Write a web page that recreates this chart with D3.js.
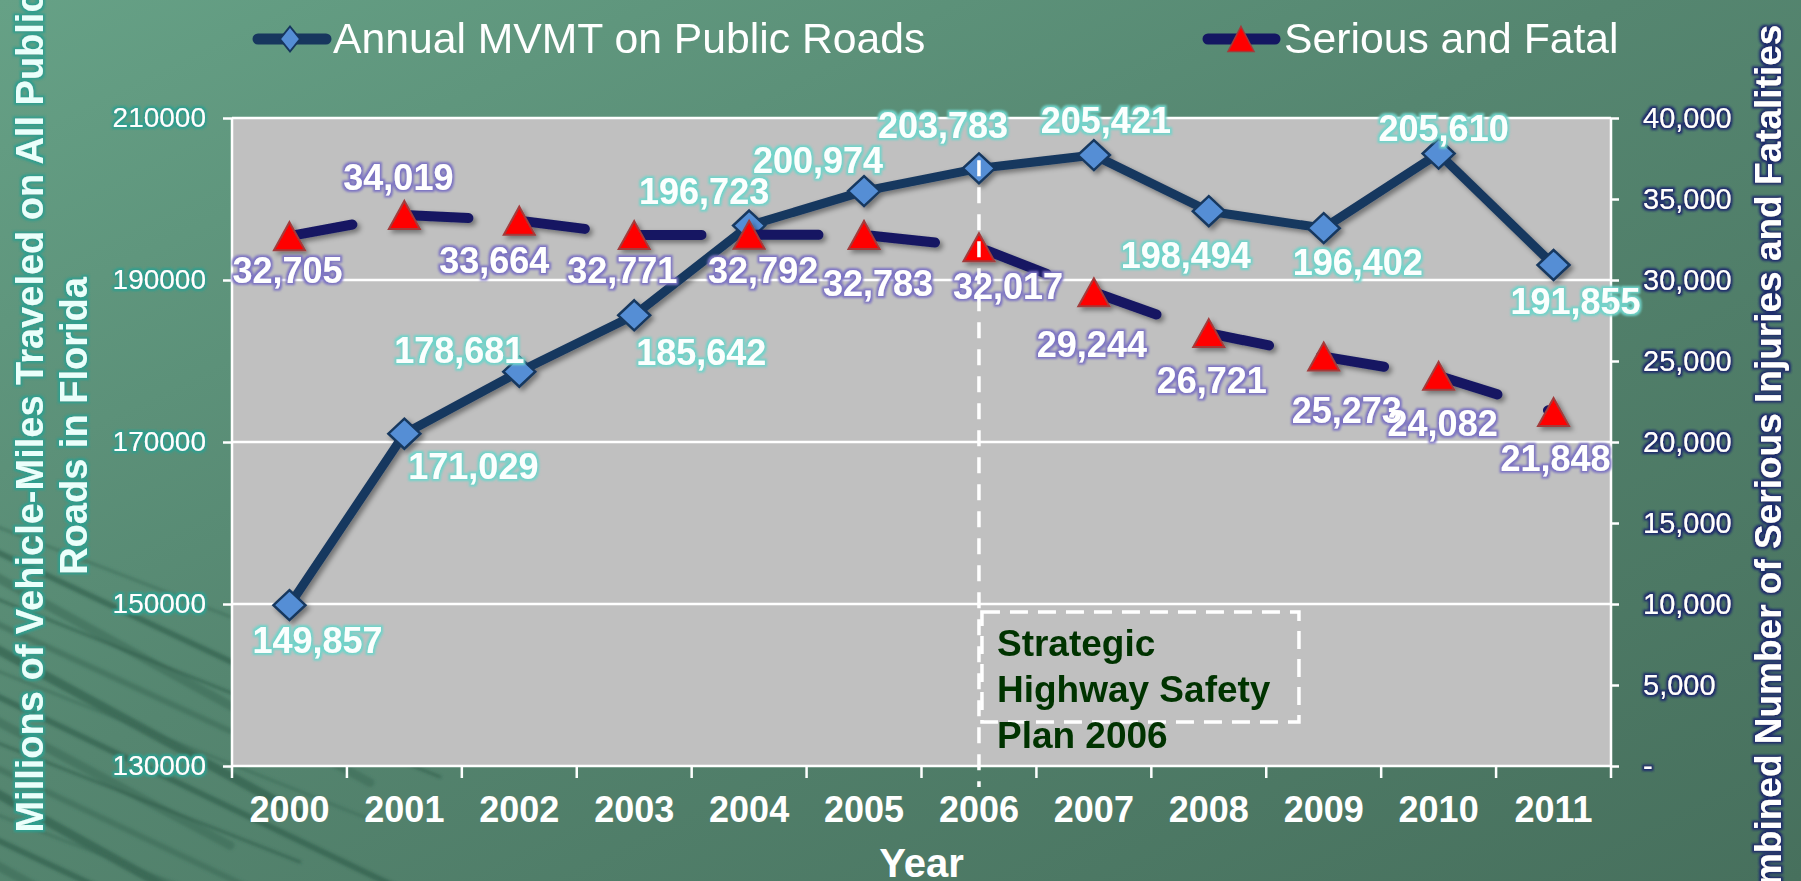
<!DOCTYPE html>
<html>
<head>
<meta charset="utf-8">
<script src="https://cdn.jsdelivr.net/npm/d3@7"></script>
<style>
body { margin: 0; overflow: hidden; background: #4f7c67; }
svg { display: block; font-family: Arial, "Liberation Sans", sans-serif; }
</style>
</head>
<body>
<svg width="1801" height="881"></svg>
<script>
var years = ["2000", "2001", "2002", "2003", "2004", "2005", "2006", "2007", "2008", "2009", "2010", "2011"];
var mvmt = [149857, 171029, 178681, 185642, 196723, 200974, 203783, 205421, 198494, 196402, 205610, 191855];
var serious = [32705, 34019, 33664, 32771, 32792, 32783, 32017, 29244, 26721, 25273, 24082, 21848];
var leftTicks = [130000, 150000, 170000, 190000, 210000];
var rightTicks = [0, 5000, 10000, 15000, 20000, 25000, 30000, 35000, 40000];
var planYear = "2006";
var planText = ["Strategic", "Highway Safety", "Plan 2006"];

// where each data label sits relative to its point
var mvmtLabelOffsets = [[28, 35], [69, 32], [-60, -22], [67, 37], [-45, -35], [-46, -31], [-36, -43], [12, -35], [-23, 44], [34, 34], [5, -26], [22, 36]];
var seriousLabelOffsets = [[-2, 34], [-6, -38], [-25, 39], [-12, 35], [14, 35], [14, 48], [29, 39], [-2, 52], [3, 47], [23, 53], [4, 47], [2, 46]];

var svg = d3.select("svg");
var width = 1801, height = 881;
var plotLeft = 232, plotRight = 1611, plotTop = 118, plotBottom = 766;

var defs = svg.append("defs");

var grad = defs.append("linearGradient").attr("id", "bg")
	.attr("x1", 0).attr("y1", 0).attr("x2", 1).attr("y2", 1);
grad.append("stop").attr("offset", "0%").attr("stop-color", "#66a186");
grad.append("stop").attr("offset", "45%").attr("stop-color", "#558670");
grad.append("stop").attr("offset", "100%").attr("stop-color", "#47705d");

var glow = function(id, color, r) {
	var f = defs.append("filter").attr("id", id)
		.attr("x", "-20%").attr("y", "-50%").attr("width", "140%").attr("height", "200%");
	f.append("feMorphology").attr("in", "SourceAlpha").attr("operator", "dilate").attr("radius", r).attr("result", "d");
	f.append("feGaussianBlur").attr("in", "d").attr("stdDeviation", 1.2).attr("result", "b");
	f.append("feFlood").attr("flood-color", color);
	f.append("feComposite").attr("in2", "b").attr("operator", "in").attr("result", "g");
	var m = f.append("feMerge");
	m.append("feMergeNode").attr("in", "g");
	m.append("feMergeNode").attr("in", "SourceGraphic");
}
glow("glowTeal", "#6fd3c9", 2.2);
glow("glowPurple", "#7b72c2", 2.2);
glow("glowAxisTeal", "#2f9e8e", 1.6);
glow("glowNavy", "#1e2b6c", 1.6);

var sh = defs.append("filter").attr("id", "shadow")
	.attr("x", "-20%").attr("y", "-20%").attr("width", "140%").attr("height", "140%");
sh.append("feDropShadow").attr("dx", 3).attr("dy", 3).attr("stdDeviation", 2.5)
	.attr("flood-color", "#000").attr("flood-opacity", 0.4);

var soft = defs.append("filter").attr("id", "soft");
soft.append("feGaussianBlur").attr("stdDeviation", 1.5);

// background
svg.append("rect").attr("width", width).attr("height", height).attr("fill", "url(#bg)");

var streaks = svg.append("g").attr("filter", "url(#soft)");
d3.range(16).forEach(function(i) {
	var y0 = 520 + i * 24;
	var len = 230 + (i % 4) * 70;
	streaks.append("line")
		.attr("x1", -20).attr("y1", y0)
		.attr("x2", len).attr("y2", y0 + len * (0.42 + (i % 3) * 0.08))
		.attr("stroke", i % 2 ? "#2c5646" : "#3a6a57")
		.attr("stroke-width", 3 + (i % 3) * 3)
		.attr("stroke-linecap", "round")
		.attr("opacity", 0.55);
});

// scales
var x = d3.scaleBand().domain(years).range([plotLeft, plotRight]);
var cx = function(d) { return x(d) + x.bandwidth() / 2; };
var yL = d3.scaleLinear().domain([130000, 210000]).range([plotBottom, plotTop]);
var yR = d3.scaleLinear().domain([0, 40000]).range([plotBottom, plotTop]);

// plot area
svg.append("rect").attr("x", plotLeft).attr("y", plotTop)
	.attr("width", plotRight - plotLeft).attr("height", plotBottom - plotTop).attr("fill", "#c0c0c0");

svg.append("g").selectAll("line").data(leftTicks.slice(1)).enter().append("line")
	.attr("x1", plotLeft).attr("x2", plotRight)
	.attr("y1", function(d) { return yL(d); }).attr("y2", function(d) { return yL(d); })
	.attr("stroke", "#fff").attr("stroke-width", 2.5);

// axes lines
var axisLines = svg.append("g").attr("stroke", "#fff").attr("stroke-width", 2.5);
axisLines.append("line").attr("x1", plotLeft).attr("x2", plotLeft).attr("y1", plotTop).attr("y2", plotBottom);
axisLines.append("line").attr("x1", plotRight).attr("x2", plotRight).attr("y1", plotTop).attr("y2", plotBottom);
axisLines.append("line").attr("x1", plotLeft).attr("x2", plotRight).attr("y1", plotBottom).attr("y2", plotBottom);
axisLines.selectAll(".xt").data(d3.range(years.length + 1)).enter().append("line")
	.attr("x1", function(i) { return plotLeft + i * x.step(); })
	.attr("x2", function(i) { return plotLeft + i * x.step(); })
	.attr("y1", plotBottom).attr("y2", plotBottom + 12);

// left axis
var la = svg.append("g").attr("transform", "translate(" + plotLeft + ",0)")
	.call(d3.axisLeft(yL).tickValues(leftTicks).tickSize(9).tickPadding(17).tickFormat(d3.format("d")));
la.select(".domain").remove();
la.selectAll("line").attr("stroke", "#fff").attr("stroke-width", 2.5);
la.selectAll("text").attr("font-size", 28).attr("fill", "#fff")
	.attr("font-family", "Arial, 'Liberation Sans', sans-serif")
	.attr("filter", "url(#glowAxisTeal)");

// right axis
var ra = svg.append("g").attr("transform", "translate(" + plotRight + ",0)")
	.call(d3.axisRight(yR).tickValues(rightTicks).tickSize(8).tickPadding(24)
		.tickFormat(function(d) { return d === 0 ? "-" : d3.format(",")(d); }));
ra.select(".domain").remove();
ra.selectAll("line").attr("stroke", "#fff").attr("stroke-width", 2.5);
ra.selectAll("text").attr("font-size", 29).attr("fill", "#fff")
	.attr("font-family", "Arial, 'Liberation Sans', sans-serif")
	.attr("filter", "url(#glowNavy)");

// year labels
svg.append("g").selectAll("text").data(years).enter().append("text")
	.attr("x", cx).attr("y", 822)
	.attr("text-anchor", "middle").attr("font-size", 36).attr("font-weight", "bold")
	.attr("fill", "#fff").text(function(d) { return d; });

svg.append("text").attr("x", (plotLeft + plotRight) / 2).attr("y", 877)
	.attr("text-anchor", "middle").attr("font-size", 40).attr("font-weight", "bold")
	.attr("fill", "#fff").text("Year");

// axis titles
var lt = svg.append("g").attr("filter", "url(#glowAxisTeal)").attr("font-size", 38)
	.attr("font-weight", "bold").attr("fill", "#eafffb").attr("text-anchor", "middle");
lt.append("text").attr("transform", "translate(43,412) rotate(-90)")
	.text("Millions of Vehicle-Miles Traveled on All Public");
lt.append("text").attr("transform", "translate(87,426) rotate(-90)")
	.text("Roads in Florida");

svg.append("text").attr("transform", "translate(1781,480) rotate(-90)")
	.attr("text-anchor", "middle").attr("font-size", 37).attr("font-weight", "bold")
	.attr("fill", "#fff").attr("filter", "url(#glowNavy)")
	.text("Combined Number of Serious Injuries and Fatalities");

// series shapes
var diamond = function(w, h) {
	return "M0," + (-h / 2) + "L" + (w / 2) + ",0L0," + (h / 2) + "L" + (-w / 2) + ",0Z";
}
var triangle = function(w, h) {
	return "M0," + (-h / 2) + "L" + (w / 2) + "," + (h / 2) + "L" + (-w / 2) + "," + (h / 2) + "Z";
}

// MVMT series
var mvmtLine = d3.line().x(function(d, i) { return cx(years[i]); }).y(function(d) { return yL(d); });
var gm = svg.append("g").attr("filter", "url(#shadow)");
gm.append("path").attr("d", mvmtLine(mvmt)).attr("fill", "none")
	.attr("stroke", "#17375e").attr("stroke-width", 9).attr("stroke-linejoin", "round");
gm.selectAll(".dia").data(mvmt).enter().append("path")
	.attr("transform", function(d, i) { return "translate(" + cx(years[i]) + "," + yL(d) + ")"; })
	.attr("d", diamond(32, 30))
	.attr("fill", "#558ed5").attr("stroke", "#17375e").attr("stroke-width", 2.5);

// serious and fatal series
var serLine = d3.line().x(function(d, i) { return cx(years[i]); }).y(function(d) { return yR(d); });
var gs = svg.append("g").attr("filter", "url(#shadow)");
gs.append("path").attr("d", serLine(serious)).attr("fill", "none")
	.attr("stroke", "#141762").attr("stroke-width", 10)
	.attr("stroke-linecap", "round").attr("stroke-dasharray", "64,53");
gs.selectAll(".tri").data(serious).enter().append("path")
	.attr("transform", function(d, i) { return "translate(" + cx(years[i]) + "," + yR(d) + ")"; })
	.attr("d", triangle(31, 28))
	.attr("fill", "#ff0000").attr("stroke", "#a33a3a").attr("stroke-width", 2);

// data labels
svg.append("g").attr("filter", "url(#glowTeal)").selectAll("text").data(mvmt).enter().append("text")
	.attr("x", function(d, i) { return cx(years[i]) + mvmtLabelOffsets[i][0]; })
	.attr("y", function(d, i) { return yL(d) + mvmtLabelOffsets[i][1]; })
	.attr("dy", "0.36em").attr("text-anchor", "middle")
	.attr("font-size", 36).attr("font-weight", "bold").attr("fill", "#fbfffe")
	.text(function(d) { return d3.format(",")(d); });

svg.append("g").attr("filter", "url(#glowPurple)").selectAll("text").data(serious).enter().append("text")
	.attr("x", function(d, i) { return cx(years[i]) + seriousLabelOffsets[i][0]; })
	.attr("y", function(d, i) { return yR(d) + seriousLabelOffsets[i][1]; })
	.attr("dy", "0.36em").attr("text-anchor", "middle")
	.attr("font-size", 36).attr("font-weight", "bold").attr("fill", "#fff")
	.text(function(d) { return d3.format(",")(d); });

// plan marker line and note
var px = cx(planYear);
svg.append("line").attr("x1", px).attr("x2", px)
	.attr("y1", yL(mvmt[years.indexOf(planYear)]) - 8).attr("y2", plotBottom + 21)
	.attr("stroke", "#fff").attr("stroke-width", 3.5).attr("stroke-dasharray", "16,11");

svg.append("rect").attr("x", px + 3).attr("y", 612).attr("width", 317).attr("height", 110)
	.attr("fill", "none").attr("stroke", "#fff").attr("stroke-width", 3.5)
	.attr("stroke-dasharray", "18,10");

svg.append("g").selectAll("text").data(planText).enter().append("text")
	.attr("x", px + 18).attr("y", function(d, i) { return 656 + i * 46; })
	.attr("font-size", 37).attr("font-weight", "bold").attr("fill", "#003300")
	.text(function(d) { return d; });

// legend
var lg = svg.append("g");
lg.append("line").attr("x1", 258).attr("x2", 326).attr("y1", 39).attr("y2", 39)
	.attr("stroke", "#17375e").attr("stroke-width", 11).attr("stroke-linecap", "round");
lg.append("path").attr("transform", "translate(290,39)").attr("d", diamond(20, 25))
	.attr("fill", "#558ed5").attr("stroke", "#17375e").attr("stroke-width", 2);
lg.append("text").attr("x", 333).attr("y", 53).attr("font-size", 42.7).attr("fill", "#fff")
	.text("Annual MVMT on Public Roads");

lg.append("line").attr("x1", 1208).attr("x2", 1275).attr("y1", 39).attr("y2", 39)
	.attr("stroke", "#141762").attr("stroke-width", 11).attr("stroke-linecap", "round");
lg.append("path").attr("transform", "translate(1241,39)").attr("d", triangle(26, 25))
	.attr("fill", "#ff0000").attr("stroke", "#a33a3a").attr("stroke-width", 1.5);
lg.append("text").attr("x", 1284).attr("y", 53).attr("font-size", 42.7).attr("fill", "#fff")
	.text("Serious and Fatal");
</script>
</body>
</html>
